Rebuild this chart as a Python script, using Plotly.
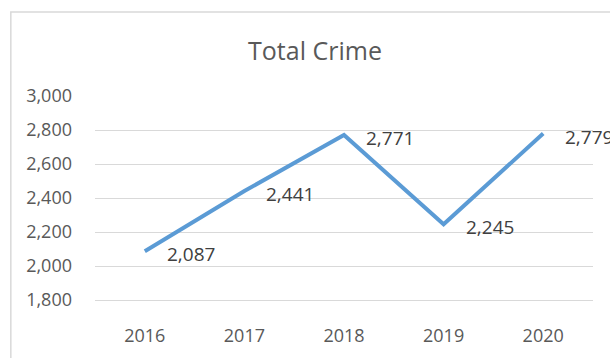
import plotly.graph_objects as go

years = ["2016", "2017", "2018", "2019", "2020"]
total_crime = [2087, 2441, 2771, 2245, 2779]
y_ticks = [1800, 2000, 2200, 2400, 2600, 2800, 3000]
y_tick_labels = ["1,800", "2,000", "2,200", "2,400", "2,600", "2,800", "3,000"]
title_text = "Total Crime"

FONT = "Open Sans, Noto Sans, DejaVu Sans, sans-serif"
GRAY = "#595959"

fig = go.Figure()
fig.add_trace(go.Scatter(
    x=years, y=total_crime, mode="lines",
    line=dict(color="#5B9BD5", width=4),
    hoverinfo="skip", showlegend=False,
))

for i, v in enumerate(total_crime):
    fig.add_annotation(
        x=i, y=v, xref="x", yref="y",
        text=f"{v:,}", showarrow=False,
        xanchor="left", yanchor="middle",
        xshift=20, yshift=-3,
        font=dict(family=FONT, size=19, color="#404040"),
    )

# chart area border (extends past right/bottom edges)
fig.add_shape(
    type="rect", xref="paper", yref="paper",
    x0=-84 / 497, x1=1.2, y0=-0.5, y1=(300 - 12) / 204,
    line=dict(color="#D9D9D9", width=1.5), fillcolor="rgba(0,0,0,0)",
    layer="below",
)

fig.update_layout(
    width=610, height=358,
    margin=dict(l=95, r=17, t=96, b=58),
    paper_bgcolor="white", plot_bgcolor="white",
    title=dict(
        text=title_text, x=315 / 610, xanchor="center",
        y=(358 - 51) / 358, yanchor="middle", yref="container",
        font=dict(family=FONT, size=25, color=GRAY),
    ),
    xaxis=dict(
        type="category", showgrid=False, zeroline=False,
        showline=True, linecolor="#D9D9D9", linewidth=1,
        ticks="", ticklabelstandoff=19,
        tickfont=dict(family=FONT, size=18, color=GRAY),
        range=[-0.5, 4.5], fixedrange=True,
    ),
    yaxis=dict(
        range=[1800, 3000], tickvals=y_ticks, ticktext=y_tick_labels,
        showgrid=True, gridcolor="#D9D9D9", gridwidth=1,
        zeroline=False, showline=False, ticks="",
        ticklabelstandoff=22,
        tickfont=dict(family=FONT, size=18, color=GRAY),
        fixedrange=True,
    ),
)

fig.write_html("out.html")
